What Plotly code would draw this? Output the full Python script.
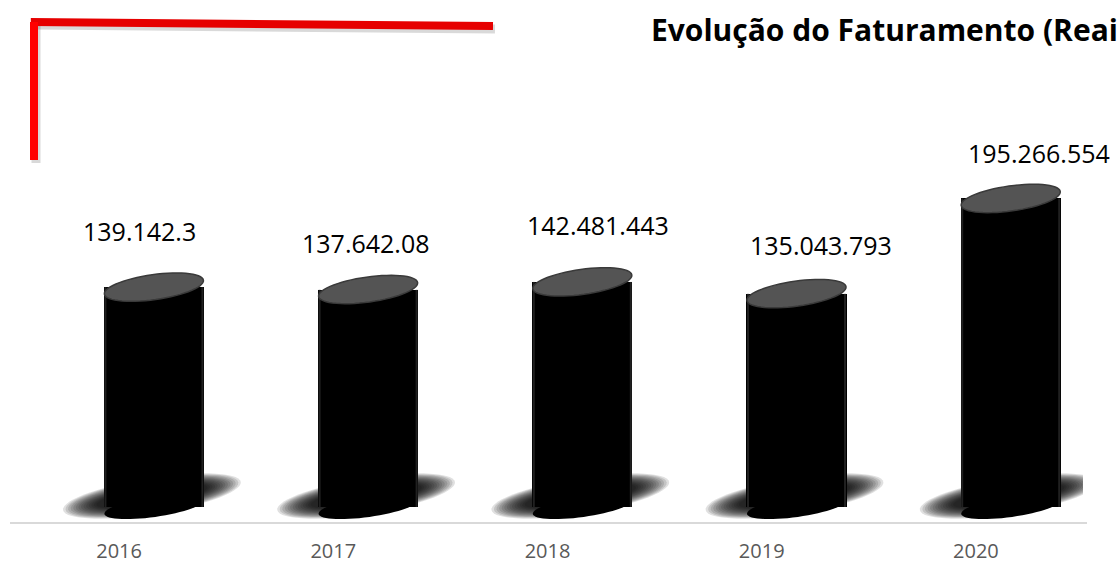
import numpy as np
import plotly.graph_objects as go

# dados do gráfico (faturamento em milhões)
anos = ['2016', '2017', '2018', '2019', '2020']
faturamento = [139.1423, 137.64208, 142.481443, 135.043793, 195.266554]
rotulos = ['139.142.3', '137.642.08', '142.481.443', '135.043.793', '195.266.554']

# deslocamento manual dos rótulos (px), como estavam no original
rotulo_dx = [-14, -2, 16, 24, 28]
rotulo_dy = [56, 47, 57, 49, 45]

LARG, ALT = 1117, 563
M = dict(l=12, r=34, t=60, b=40)
Y_RANGE = [-10.13, 282.9]
X_RANGE = [-0.5, 4.5]
LARG_PLOT = LARG - M['l'] - M['r']
ALT_PLOT = ALT - M['t'] - M['b']
kx = LARG_PLOT / (X_RANGE[1] - X_RANGE[0])
ky = ALT_PLOT / (Y_RANGE[1] - Y_RANGE[0])

BAR_W = 0.467
BAR_OFF = -0.071
pos = list(range(len(anos)))


def elipse(xc, yc, a, b, ang, dxp=0, dyp=0):
    """Caminho SVG de uma elipse girada (a, b em px) nas coordenadas dos dados."""
    t = np.linspace(0, 2 * np.pi, 61)
    r = np.radians(ang)
    dx = a * np.cos(t) * np.cos(r) - b * np.sin(t) * np.sin(r) + dxp
    dy = a * np.cos(t) * np.sin(r) + b * np.sin(t) * np.cos(r) + dyp
    xs = xc + dx / kx
    ys = yc + dy / ky
    pts = [f'{x:.5f},{y:.4f}' for x, y in zip(xs, ys)]
    return 'M ' + ' L '.join(pts) + ' Z'


def px_paper(px, py):
    return (px - M['l']) / LARG_PLOT, (ALT - M['b'] - py) / ALT_PLOT


fig = go.Figure()

fig.add_trace(go.Bar(
    x=pos, y=faturamento, width=BAR_W, offset=BAR_OFF,
    marker=dict(color='black', line=dict(width=0)),
    hoverinfo='skip'
))

shapes = []
for p, v in zip(pos, faturamento):
    xc = p + BAR_OFF + BAR_W / 2
    # sombra borrada na base
    n = 14
    for i in range(n):
        shapes.append(dict(
            type='path',
            path=elipse(xc, 0, 90 - i * 2.6, 18 - i * 0.7, 9, dxp=-2, dyp=11),
            fillcolor='black', opacity=0.12, line=dict(width=0), layer='below'
        ))
    # fundo arredondado
    shapes.append(dict(
        type='path', path=elipse(xc, 0, 50, 10, 8),
        fillcolor='black', line=dict(width=0), layer='above'
    ))
    # bordas levemente claras do cilindro
    for lado in (-1, 1):
        shapes.append(dict(
            type='line', x0=xc + lado * 48.5 / kx, x1=xc + lado * 48.5 / kx,
            y0=0, y1=v, line=dict(color='rgba(80,80,80,0.4)', width=2),
            layer='above'
        ))
    # tampa
    shapes.append(dict(
        type='path', path=elipse(xc, v, 50, 12.5, 8),
        fillcolor='#545454', line=dict(color='#3a3a3a', width=1.5), layer='above'
    ))

# linha do eixo
shapes.append(dict(type='line', xref='paper', yref='paper',
                   x0=px_paper(10, 0)[0], x1=px_paper(1087, 0)[0], y0=0, y1=0,
                   line=dict(color='#d9d9d9', width=2)))

# moldura vermelha
x0, y0 = px_paper(34, 22)
x1, y1 = px_paper(493, 26)
x2, y2 = px_paper(34, 160)
sx, sy = px_paper(36, 25)
sx1, sy1 = px_paper(495, 29)
sx2, sy2 = px_paper(36, 163)
shapes += [
    dict(type='line', xref='paper', yref='paper', x0=sx, y0=sy, x1=sx1, y1=sy1,
         line=dict(color='rgba(0,0,0,0.15)', width=9)),
    dict(type='line', xref='paper', yref='paper', x0=sx, y0=sy, x1=sx2, y1=sy2,
         line=dict(color='rgba(0,0,0,0.15)', width=9)),
    dict(type='line', xref='paper', yref='paper', x0=x0 - 0.003, y0=y0, x1=x1, y1=y1,
         line=dict(color='#e60000', width=8)),
    dict(type='line', xref='paper', yref='paper', x0=x0, y0=y0, x1=x2, y1=y2,
         line=dict(color='#ff0000', width=8)),
]

annotations = []
for p, v, txt, dx, dy in zip(pos, faturamento, rotulos, rotulo_dx, rotulo_dy):
    annotations.append(dict(
        x=p + BAR_OFF + BAR_W / 2, y=v, text=txt, showarrow=False,
        xshift=dx, yshift=dy, font=dict(family='Open Sans', size=25, color='black')
    ))

fig.update_layout(
    width=LARG, height=ALT,
    margin=dict(M, autoexpand=False),
    paper_bgcolor='white', plot_bgcolor='white',
    showlegend=False,
    title=dict(text='<b>Evolução do Faturamento (Reais)</b>',
               font=dict(family='Open Sans', size=30, color='black'),
               xref='container', yref='container',
               x=651 / LARG, xanchor='left', y=1 - 30 / ALT, yanchor='middle'),
    xaxis=dict(range=X_RANGE, tickvals=pos, ticktext=anos, showgrid=False,
               zeroline=False, showline=False, ticks='', ticklabelstandoff=14,
               tickfont=dict(family='Open Sans', size=20, color='#595959'),
               automargin=False, fixedrange=True),
    yaxis=dict(range=Y_RANGE, visible=False, fixedrange=True, automargin=False),
    shapes=shapes,
    annotations=annotations,
    bargap=0,
)

fig.write_html('out.html', config={'displayModeBar': False},
               post_script="document.body.style.margin='0';"
                           "document.body.style.overflow='hidden';")
